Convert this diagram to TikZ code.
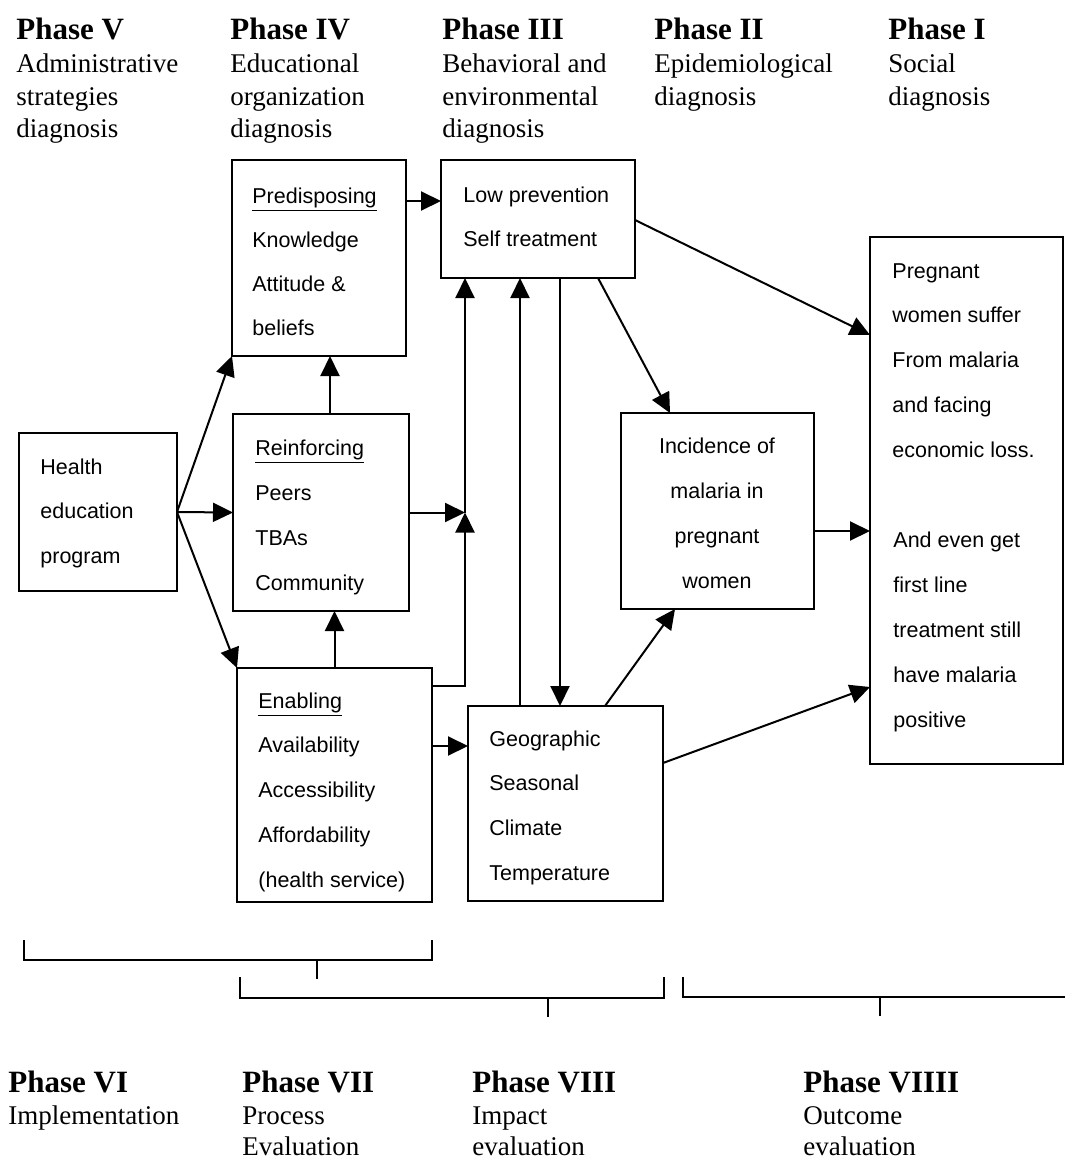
\documentclass[tikz,border=0pt]{standalone}
\usepackage{fontspec}
\setmainfont{Liberation Serif}
\newfontfamily\arialf{Liberation Sans}
\usetikzlibrary{arrows.meta}
\begin{document}
\begin{tikzpicture}[x=0.5pt,y=-0.5pt,
  box/.style={draw, line width=1pt, inner sep=0pt, outer sep=0pt, anchor=north west},
  arr/.style={line width=1pt, -{Triangle[length=10pt,width=9.5pt]}},
  sl/.style={font=\arialf\fontsize{10.75pt}{13pt}\selectfont, anchor=base west, inner sep=0pt},
  hb/.style={font=\bfseries\fontsize{15.5pt}{18pt}\selectfont, anchor=base west, inner sep=0pt},
  hr/.style={font=\fontsize{13.5pt}{16pt}\selectfont, anchor=base west, inner sep=0pt},
  brk/.style={line width=0.8pt}]
\useasboundingbox (0,0) rectangle (1065,1161);

% ---- top headers
\node[hb] (h5) at (16,40) {Phase V};
\node[hr] (h5a) at (16,73) {Administrative};
\node[hr] (h5b) at (16,105) {strategies};
\node[hr] (h5c) at (16,137) {diagnosis};
\node[hb] (h4) at (230,40) {Phase IV};
\node[hr] (h4a) at (230,73) {Educational};
\node[hr] (h4b) at (230,105) {organization};
\node[hr] (h4c) at (230,137) {diagnosis};
\node[hb] (h3) at (442,40) {Phase III};
\node[hr] (h3a) at (442,73) {Behavioral and};
\node[hr] (h3b) at (442,105) {environmental};
\node[hr] (h3c) at (442,137) {diagnosis};
\node[hb] (h2) at (654,40) {Phase II};
\node[hr] (h2a) at (654,73) {Epidemiological};
\node[hr] (h2b) at (654,105) {diagnosis};
\node[hb] (h1) at (888,40) {Phase I};
\node[hr] (h1a) at (888,73) {Social};
\node[hr] (h1b) at (888,105) {diagnosis};

% ---- boxes
\node[box, minimum width=87pt, minimum height=98pt] (pre) at (232,160) {};
\node[box, minimum width=97pt, minimum height=59pt] (low) at (441,160) {};
\node[box, minimum width=96.5pt, minimum height=263.5pt] (preg) at (870,237) {};
\node[box, minimum width=79pt, minimum height=79pt] (health) at (19,433) {};
\node[box, minimum width=88pt, minimum height=98.5pt] (rein) at (233,414) {};
\node[box, minimum width=97.5pt, minimum height=117pt] (enab) at (237,668) {};
\node[box, minimum width=97.5pt, minimum height=97.5pt] (geo) at (468,706) {};
\node[box, minimum width=96.5pt, minimum height=98pt] (inc) at (621,413) {};

% ---- box texts
\foreach \t [count=\i from 0] in {\underline{Predisposing}, Knowledge, Attitude \&, beliefs}
  \node[sl] (preT\i) at (252,{203+44.3*\i}) {\t};
\foreach \t [count=\i from 0] in {Low prevention, Self treatment}
  \node[sl] (lowT\i) at (463,{202+44*\i}) {\t};
\foreach \t [count=\i from 0] in {Health, education, program}
  \node[sl] (healthT\i) at (40,{474+44.5*\i}) {\t};
\foreach \t [count=\i from 0] in {\underline{Reinforcing}, Peers, TBAs, Community}
  \node[sl] (reinT\i) at (255,{455+45*\i}) {\t};
\foreach \t [count=\i from 0] in {\underline{Enabling}, Availability, Accessibility, Affordability, (health service)}
  \node[sl] (enabT\i) at (258,{708+44.75*\i}) {\t};
\foreach \t [count=\i from 0] in {Geographic, Seasonal, Climate, Temperature}
  \node[sl] (geoT\i) at (489,{746+44.7*\i}) {\t};
\foreach \t [count=\i from 0] in {Incidence of, malaria in, pregnant, women}
  \node[sl, anchor=base] (incT\i) at (717,{453+45*\i}) {\t};
\foreach \t [count=\i from 0] in {Pregnant, women suffer, From malaria, and facing, economic loss.}
  \node[sl] (pregA\i) at (892,{278+44.75*\i}) {\t};
\foreach \t [count=\i from 0] in {And even get, first line, treatment still, have malaria, positive}
  \node[sl] (pregB\i) at (893,{547+45*\i}) {\t};

% ---- helper coordinates
\coordinate (J) at (465,512.5);
\coordinate (yA) at (0,201);
\coordinate (yB) at (0,686);
\coordinate (yC) at (0,746);
\coordinate (yD) at (0,220);
\coordinate (yE) at (0,335);
\coordinate (yF) at (0,531);
\coordinate (yG) at (0,763);
\coordinate (yH) at (0,687);
\coordinate (xA) at (330,0);
\coordinate (xB) at (520,0);
\coordinate (xC) at (560,0);
\coordinate (xD) at (598,0);
\coordinate (xE) at (670,0);
\coordinate (xF) at (605,0);
\coordinate (xG) at (675,0);

% ---- connectors
\draw[arr] (pre.east |- yA) -- (low.west |- yA);
\draw[arr] (health.east) -- (pre.south west);
\draw[arr] (health.east) -- (rein.west);
\draw[arr] (health.east) -- (enab.north west);
\draw[arr] (rein.north -| xA) -- (pre.south -| xA);
\draw[arr] (enab.north) -- (enab.north |- rein.south);
\draw[arr] (rein.east) -- (J);
\draw[arr] (enab.east |- yB) -| (J);
\draw[arr] (J) -- (J |- low.south);
\draw[arr] (enab.east |- yC) -- (geo.west |- yC);
\draw[arr] (geo.north -| xB) -- (low.south -| xB);
\draw[arr] (low.south -| xC) -- (geo.north -| xC);
\draw[arr] (low.south -| xD) -- (inc.north -| xE);
\draw[arr] (geo.north -| xF) -- (inc.south -| xG);
\draw[arr] (low.east |- yD) -- (preg.west |- yE);
\draw[arr] (inc.east |- yF) -- (preg.west |- yF);
\draw[arr] (geo.east |- yG) -- (preg.west |- yH);

% ---- brackets
\draw[brk] (24,940) -- (24,960) -- (432,960) -- (432,940);
\draw[brk] (317,960) -- (317,979);
\draw[brk] (240,977) -- (240,998) -- (664,998) -- (664,977);
\draw[brk] (548,998) -- (548,1017);
\draw[brk] (683,977) -- (683,997) -- (1065,997);
\draw[brk] (880,997) -- (880,1016);

% ---- bottom headers
\node[hb] (h6) at (8,1092) {Phase VI};
\node[hr] (h6a) at (8,1124) {Implementation};
\node[hb] (h7) at (242,1092) {Phase VII};
\node[hr] (h7a) at (242,1124) {Process};
\node[hr] (h7b) at (242,1155) {Evaluation};
\node[hb] (h8) at (472,1092) {Phase VIII};
\node[hr] (h8a) at (472,1124) {Impact};
\node[hr] (h8b) at (472,1155) {evaluation};
\node[hb] (h9) at (803,1092) {Phase VIIII};
\node[hr] (h9a) at (803,1124) {Outcome};
\node[hr] (h9b) at (803,1155) {evaluation};
\end{tikzpicture}
\end{document}
